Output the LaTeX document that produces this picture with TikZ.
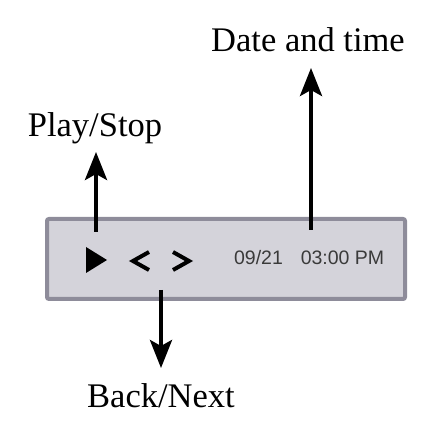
\documentclass[tikz,border=0pt]{standalone}
\usepackage{fontspec}
\setmainfont{Liberation Serif}
\newfontfamily\barfont{Liberation Sans}
\usetikzlibrary{arrows.meta}
\definecolor{barfill}{HTML}{D4D3DA}
\definecolor{barline}{HTML}{8E8C9A}
\definecolor{bartext}{HTML}{3A3A3A}
\begin{document}
\begin{tikzpicture}[x=1pt, y=1pt, every node/.style={inner sep=1pt},
  caption/.style={anchor=base, font=\fontsize{34.5}{40}\selectfont},
  stamp/.style={anchor=base, text=bartext, font=\barfont\fontsize{19.5}{22}\selectfont},
  pointer/.style={line width=4pt, -{Stealth[length=28pt, width=22pt, inset=6pt]}}]
  \useasboundingbox (0,0) rectangle (440,440);
  % the bar
  \draw[barline, fill=barfill, line width=4pt, rounded corners=2pt] (47,141) rectangle (405,221);
  \fill (86,193) -- (107,180) -- (86,167) -- cycle;
  \draw[line width=4pt] (149,188) -- (133,179) -- (149,170);
  \draw[line width=4pt] (173,188) -- (189,179) -- (173,170);
  \node[stamp] (day) at (258.5,175) {09/21};
  \node[stamp] (clock) at (342.5,175) {03:00 PM};
  % labels
  \node[caption] (datelbl) at (308,388) {Date and time};
  \node[caption] (playlbl) at (95,303) {Play/Stop};
  \node[caption] (backlbl) at (161,33) {Back/Next};
  \coordinate (playfoot) at (96,208);
  \coordinate (playtip) at (96,288);
  \coordinate (datefoot) at (311,210);
  \coordinate (datetip) at (311,372);
  \coordinate (backfoot) at (161,150);
  \coordinate (backtip) at (161,72);
  \draw[pointer] (playfoot) -- (playtip);
  \draw[pointer] (datefoot) -- (datetip);
  \draw[pointer] (backfoot) -- (backtip);
\end{tikzpicture}
\end{document}
